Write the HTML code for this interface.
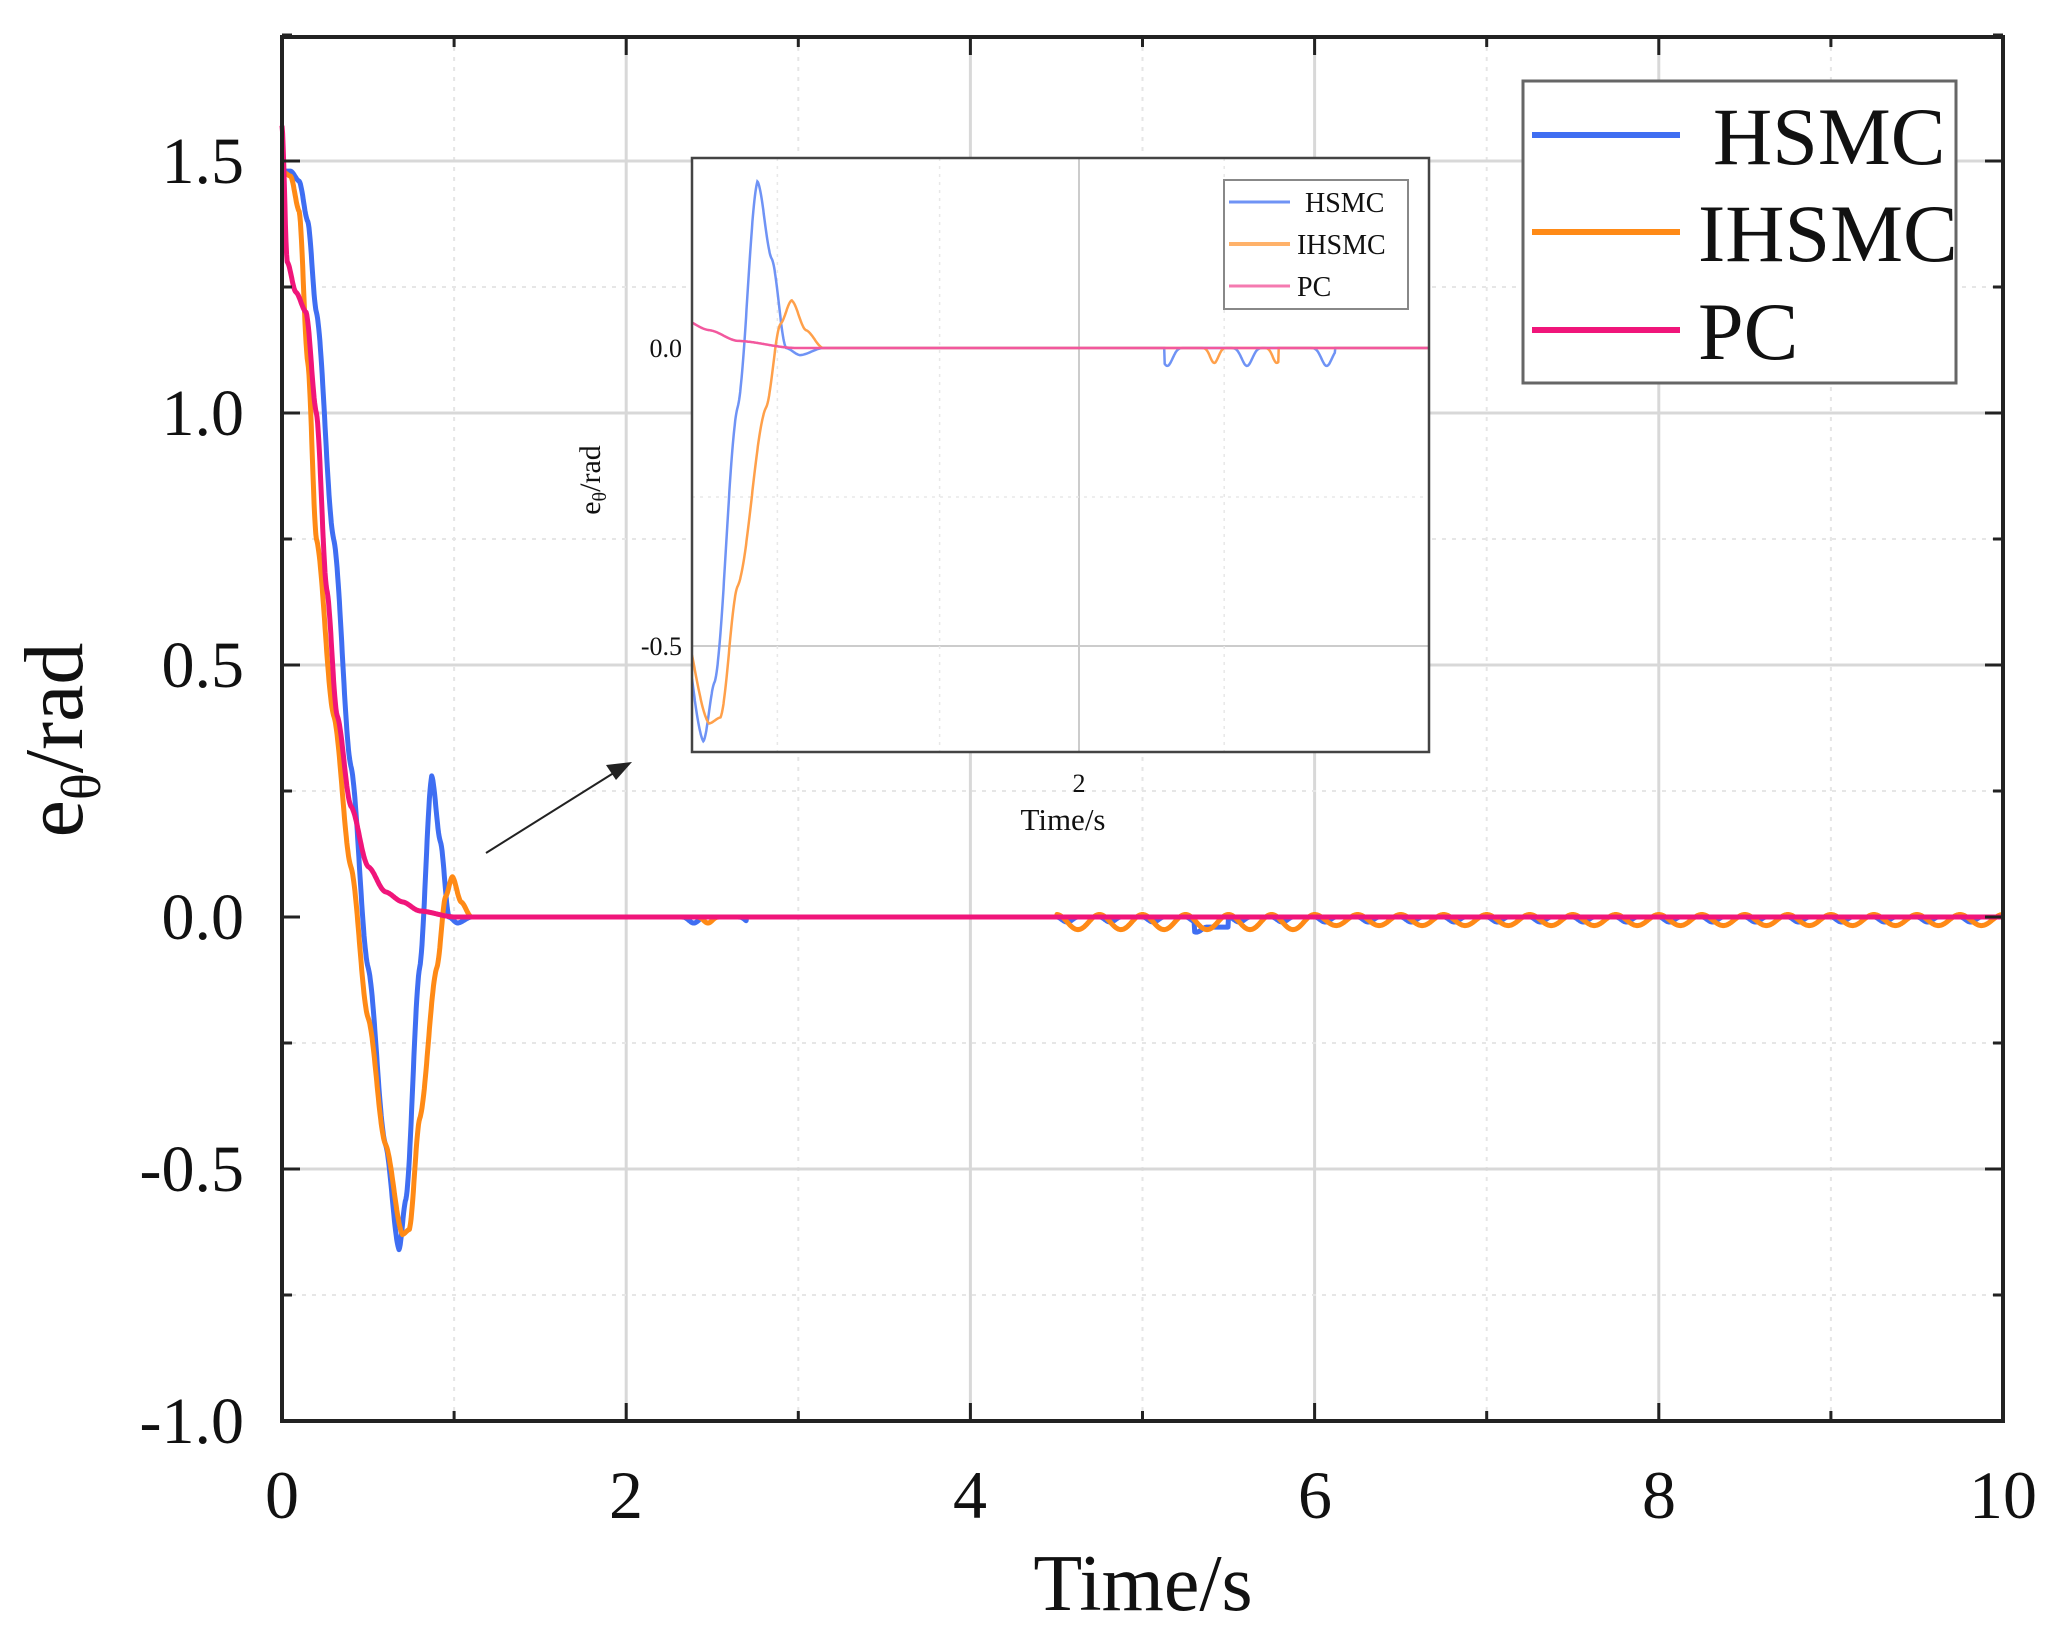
<!DOCTYPE html>
<html><head><meta charset="utf-8"><style>
body{margin:0;background:#fff}
svg{display:block}
text{font-family:"Liberation Serif",serif;fill:#111}
</style></head><body>
<svg id="s" width="2059" height="1628" xmlns="http://www.w3.org/2000/svg">
<rect width="2059" height="1628" fill="#fff"/>
<g id="grid"></g>
<g id="series" fill="none" stroke-width="5" stroke-linejoin="round"></g>
<rect x="282" y="37" width="1721" height="1384" fill="none" stroke="#222" stroke-width="4"/>
<g id="ticks" stroke="#222" stroke-width="3"></g>
<g font-size="66" text-anchor="end">
<text x="244" y="183">1.5</text><text x="244" y="435">1.0</text><text x="244" y="687">0.5</text>
<text x="244" y="939">0.0</text><text x="244" y="1191">-0.5</text><text x="244" y="1443">-1.0</text>
</g>
<g font-size="68" text-anchor="middle">
<text x="282" y="1518">0</text><text x="626" y="1518">2</text><text x="970" y="1518">4</text>
<text x="1315" y="1518">6</text><text x="1659" y="1518">8</text><text x="2003" y="1518">10</text>
<text x="1143" y="1610" font-size="80">Time/s</text>
</g>
<text transform="translate(82,740) rotate(-90)" font-size="84" text-anchor="middle">e<tspan font-size="56" dy="18">θ</tspan><tspan dy="-18">/rad</tspan></text>
<!-- legend -->
<rect x="1523" y="81" width="433" height="302" fill="#fff" stroke="#666" stroke-width="3"/>
<line x1="1532" y1="135" x2="1680" y2="135" stroke="#3f6ef2" stroke-width="6"/>
<line x1="1532" y1="232" x2="1680" y2="232" stroke="#ff8a16" stroke-width="6"/>
<line x1="1532" y1="330" x2="1680" y2="330" stroke="#f0157a" stroke-width="6"/>
<g font-size="82"><text x="1713" y="164">HSMC</text><text x="1698" y="261">IHSMC</text><text x="1698" y="359">PC</text></g>
<!-- arrow -->
<line x1="486" y1="853" x2="620" y2="769" stroke="#222" stroke-width="2"/>
<polygon points="632,762 606,765 616,780" fill="#222"/>
<!-- inset -->
<rect x="692" y="158" width="737" height="594" fill="#fff"/>
<g id="igrid"></g>
<g id="iseries" fill="none" stroke-width="2.5"></g>
<rect x="692" y="158" width="737" height="594" fill="none" stroke="#444" stroke-width="2.5"/>
<g font-size="26" text-anchor="end"><text x="682" y="357">0.0</text><text x="682" y="655">-0.5</text></g>
<text x="1079" y="792" font-size="26" text-anchor="middle">2</text>
<text x="1063" y="830" font-size="31" text-anchor="middle">Time/s</text>
<text transform="translate(600,480) rotate(-90)" font-size="30" text-anchor="middle">e<tspan font-size="20" dy="6">θ</tspan><tspan dy="-6">/rad</tspan></text>
<rect x="1224" y="180" width="184" height="129" fill="#fff" stroke="#888" stroke-width="2"/>
<line x1="1229" y1="202" x2="1290" y2="202" stroke="#6f93f5" stroke-width="3"/>
<line x1="1229" y1="244" x2="1290" y2="244" stroke="#ffb26a" stroke-width="4"/>
<line x1="1229" y1="286" x2="1290" y2="286" stroke="#f57ab0" stroke-width="3"/>
<g font-size="28"><text x="1305" y="212">HSMC</text><text x="1297" y="254">IHSMC</text><text x="1297" y="296">PC</text></g>
</svg>
<script>
const NS="http://www.w3.org/2000/svg";
function el(p,t,a){const e=document.createElementNS(NS,t);for(const k in a)e.setAttribute(k,a[k]);p.appendChild(e);return e;}
const X=t=>282+t*172.1, Y=v=>917-v*504;
const g=document.getElementById('grid'), tk=document.getElementById('ticks');
for(let t=1;t<10;t++){el(g,'line',{x1:X(t),y1:37,x2:X(t),y2:1421,stroke:t%2?'#e6e6e6':'#d8d8d8','stroke-width':t%2?2:3,'stroke-dasharray':t%2?'4,6':''});}
for(let v=-0.75;v<1.75;v+=0.25){if(Math.abs(v)<1e-9)continue;const maj=Math.abs(v*2-Math.round(v*2))<1e-6;el(g,'line',{x1:282,y1:Y(v),x2:2003,y2:Y(v),stroke:maj?'#d8d8d8':'#e6e6e6','stroke-width':maj?3:2,'stroke-dasharray':maj?'':'4,6'});}
for(let t=0;t<=10;t++){const L=t%2?10:18;el(tk,'line',{x1:X(t),y1:1421,x2:X(t),y2:1421-L});el(tk,'line',{x1:X(t),y1:37,x2:X(t),y2:37+L});}
for(let v=-1;v<=1.75;v+=0.25){const maj=Math.abs(v*2-Math.round(v*2))<1e-6;const L=maj?18:10;el(tk,'line',{x1:282,y1:Y(v),x2:282+L,y2:Y(v)});el(tk,'line',{x1:2003,y1:Y(v),x2:2003-L,y2:Y(v)});}
function interp(K,t){if(t<=K[0][0])return K[0][1];for(let i=1;i<K.length;i++){if(t<=K[i][0]){const a=K[i-1],b=K[i];const u=(t-a[0])/(b[0]-a[0]);const s=(1-Math.cos(Math.PI*u))/2;return a[1]+(b[1]-a[1])*(0.3*u+0.7*s);}}return K[K.length-1][1];}
const KH=[[0,1.48],[0.05,1.48],[0.1,1.46],[0.15,1.38],[0.2,1.2],[0.3,0.75],[0.4,0.3],[0.5,-0.1],[0.6,-0.45],[0.68,-0.66],[0.72,-0.56],[0.8,-0.1],[0.87,0.28],[0.92,0.15],[0.97,0],[1.02,-0.012],[1.1,0],[10,0]];
const KI=[[0,1.48],[0.05,1.47],[0.1,1.4],[0.15,1.1],[0.2,0.75],[0.3,0.4],[0.4,0.1],[0.5,-0.2],[0.6,-0.45],[0.7,-0.63],[0.74,-0.62],[0.8,-0.4],[0.9,-0.1],[0.95,0.04],[0.99,0.08],[1.04,0.03],[1.1,0],[10,0]];
const KP=[[0,1.57],[0.03,1.3],[0.08,1.24],[0.14,1.2],[0.2,1.0],[0.26,0.65],[0.32,0.4],[0.4,0.22],[0.5,0.1],[0.6,0.05],[0.7,0.03],[0.8,0.012],[1.0,0],[10,0]];
function fH(t){let v=interp(KH,t);if(t>2.3&&t<2.7)v+=-0.012*Math.max(0,Math.sin(2*Math.PI*t/0.33))**4;if(t>4.5)v+=-0.01*Math.max(0,Math.sin(2*Math.PI*t/0.25))**2-(t>5.3&&t<5.5?0.02:0);return v;}
function fI(t){let v=interp(KI,t);if(t>2.3&&t<2.6)v+=-0.012*Math.max(0,Math.sin(2*Math.PI*t/0.3))**4;if(t>4.5){const A=t<6?0.03:0.022;v+=-A*(1-Math.cos(2*Math.PI*(t-4.5)/0.25))/2+0.005;}return v;}
function fP(t){return interp(KP,t);}
function path(f,X,Y,t0,t1,n){let d='';for(let i=0;i<=n;i++){const t=t0+(t1-t0)*i/n;d+=(i?'L':'M')+X(t).toFixed(1)+','+Y(f(t)).toFixed(1);}return d;}
const s=document.getElementById('series');
el(s,'path',{d:path(fH,X,Y,0,10,3000),stroke:'#3f6ef2'});
el(s,'path',{d:path(fI,X,Y,0,10,3000),stroke:'#ff8a16'});
el(s,'path',{d:path(fP,X,Y,0,10,3000),stroke:'#f0157a'});
const IX=t=>692+(t-0.64)*284.6, IY=v=>348-v*596;
const ig=document.getElementById('igrid');
el(ig,'line',{x1:1079,y1:158,x2:1079,y2:752,stroke:'#ccc','stroke-width':2});
el(ig,'line',{x1:692,y1:IY(-0.5),x2:1429,y2:IY(-0.5),stroke:'#ccc','stroke-width':2});
[0.94,1.51,2.51].forEach(t=>el(ig,'line',{x1:692+(t-0.64)*284.6,y1:158,x2:692+(t-0.64)*284.6,y2:752,stroke:'#e8e8e8','stroke-width':1.5,'stroke-dasharray':'3,5'}));
el(ig,'line',{x1:692,y1:IY(-0.25),x2:1429,y2:IY(-0.25),stroke:'#e8e8e8','stroke-width':1.5,'stroke-dasharray':'3,5'});
const is=document.getElementById('iseries');
const cp=document.createElementNS(NS,'clipPath');cp.id='ic';el(cp,'rect',{x:692,y:158,width:737,height:594});is.parentNode.insertBefore(cp,is);is.setAttribute('clip-path','url(#ic)');
const HI=t=>{let v=interp(KH,t);if(t>2.3&&t<2.9)v+=-0.03*Math.max(0,Math.sin(2*Math.PI*t/0.28))**6;return v;};
const II=t=>{let v=interp(KI,t);if(t>2.4&&t<2.7)v+=-0.025*Math.max(0,Math.sin(2*Math.PI*t/0.22))**6;return v;};
el(is,'path',{d:path(HI,IX,IY,0.64,3.23,1500),stroke:'#6f93f5'});
el(is,'path',{d:path(II,IX,IY,0.64,3.23,1500),stroke:'#ffa04a'});
el(is,'path',{d:path(fP,IX,IY,0.64,3.23,1500),stroke:'#f2589e'});
</script>
</body></html>
